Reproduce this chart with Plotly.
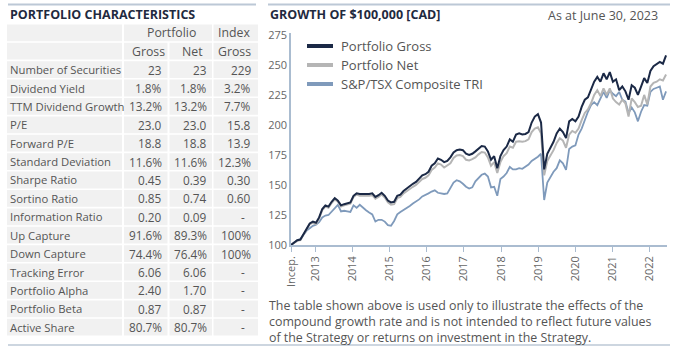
import plotly.graph_objects as go

W, H = 691, 350

# ---------------- data ----------------
months = list(range(121))
gross = [100, 102, 104, 104.5, 109, 114, 118, 119.5, 118.5, 123,
         130, 133, 132, 136, 139, 137, 133, 134, 135, 135.5,
         141, 143, 142.5, 142.5, 142, 142.5, 143, 140, 141.5, 143.5,
         141, 137, 135.5, 136, 141, 142, 145, 147, 149.5, 151,
         152.5, 155, 158, 159, 161, 166, 168, 172, 171, 169,
         170, 173, 177, 179, 179.5, 179, 176, 175, 176, 178,
         180, 182.5, 182, 178, 171, 174, 164, 174, 179, 182,
         188, 186, 192, 193, 192, 192.5, 194, 202, 207, 209,
         202, 163, 176, 181, 186, 193, 197, 194, 189, 203,
         205, 203, 207, 215, 221, 223, 229, 236, 240, 236,
         243, 238, 244, 236, 238, 229, 232, 228, 221, 233,
         231, 225, 232, 239, 235, 245, 249, 251, 252.5, 251,
         258]
net = [100, 101.5, 103.5, 104, 108.5, 113.5, 117.5, 118.5, 117.5, 122,
       129, 132, 131, 135, 138, 136, 132, 133, 134, 134.5,
       140, 142, 141, 141, 140.5, 141, 141.5, 138.5, 140, 142,
       139.5, 135.5, 133.5, 134, 139, 140, 143, 145, 147, 148.5,
       150, 152.5, 155, 156, 158, 162.5, 164.5, 168, 167, 164.5,
       166, 168, 172.5, 174.5, 175, 174, 171, 170.5, 171.5, 173,
       175.5, 177.5, 177, 173, 166, 169, 160, 169, 174, 176.5,
       182, 181, 186, 186.5, 186, 186.5, 188, 194, 197, 198,
       193, 158, 170, 174.5, 179, 185, 189, 187, 181, 192,
       195, 193.5, 197, 204, 210, 213, 218, 225, 229, 224,
       230.5, 225, 230.5, 222, 219, 217, 221, 218, 207, 222,
       219, 215, 216, 225, 217, 232, 235, 236, 238, 237,
       242]
index_tri = [100, 102, 104, 105, 109, 112, 114, 116, 117, 119,
             123, 124.5, 125, 128, 130.5, 133.5, 128, 128.5, 128, 127.5,
             133, 131, 133.5, 131, 129, 127, 125.5, 119.5, 121, 121,
             119.5, 116.5, 116, 120, 125.5, 127.5, 129, 131, 132.5, 134.5,
             136, 138, 140.5, 141.5, 143, 144.5, 145.5, 143.5, 143, 142.5,
             143, 148, 152, 154, 153, 151, 148.5, 147, 148, 153,
             155.5, 158.5, 159.5, 157, 148, 148.5, 141, 155, 157, 160,
             165, 163, 163, 164, 163.5, 165, 167, 170, 171.5, 173.5,
             176, 137.5, 152, 157, 161, 164, 170.5, 168, 162.5, 180,
             182, 183, 192, 197, 205, 211, 216.5, 219, 216.5, 222,
             227.5, 222.5, 229, 226, 224, 227.5, 221, 219.5, 210, 214.5,
             210.5, 203, 211, 216.5, 216, 227.5, 230, 231, 232, 221,
             228]

series_names = ["Portfolio Gross", "Portfolio Net", "S&P/TSX Composite TRI"]
series_colors = ["#1b2946", "#b5b5b5", "#7f9abb"]

x_tick_pos = [0, 7.7, 19.6, 31.5, 43.4, 55.3, 67.2, 79.1, 91.0, 102.9, 114.8]
x_tick_text = ["Incep.", "2013", "2014", "2015", "2016", "2017", "2018",
               "2019", "2020", "2021", "2022"]
y_ticks = [100, 125, 150, 175, 200, 225, 250, 275]

row_labels = ["Number of Securities", "Dividend Yield", "TTM Dividend Growth", "P/E",
              "Forward P/E", "Standard Deviation", "Sharpe Ratio", "Sortino Ratio",
              "Information Ratio", "Up Capture", "Down Capture", "Tracking Error",
              "Portfolio Alpha", "Portfolio Beta", "Active Share"]
gross_vals = ["23", "1.8%", "13.2%", "23.0", "18.8", "11.6%", "0.45", "0.85", "0.20",
              "91.6%", "74.4%", "6.06", "2.40", "0.87", "80.7%"]
net_vals = ["23", "1.8%", "13.2%", "23.0", "18.8", "11.6%", "0.39", "0.74", "0.09",
            "89.3%", "76.4%", "6.06", "1.70", "0.87", "80.7%"]
index_vals = ["229", "3.2%", "7.7%", "15.8", "13.9", "12.3%", "0.30", "0.60", "-",
              "100%", "100%", "-", "-", "-", "-"]

note_lines = ["The table shown above is used only to illustrate the effects of the",
              "compound growth rate and is not intended to reflect future values",
              "of the Strategy or returns on investment in the Strategy."]

# ---------------- helpers ----------------
FONT = "Open Sans"
TXT = "#555555"
TITLE = "#1f2a40"
RULE = "#bcc8d6"
AXIS = "#aabcd0"
CELL = "#f1f1f1"


def px(x):
    return x / W


def py(y):
    return 1 - y / H


shapes = []
annotations = []


def text(x, y, s, size=11.8, color=TXT, anchor="left", bold=False, yanchor="middle"):
    annotations.append(dict(
        x=px(x), y=py(y), xref="paper", yref="paper", text=("<b>%s</b>" % s) if bold else s,
        showarrow=False, xanchor=anchor, yanchor=yanchor, align="left",
        font=dict(family=FONT, size=size, color=color)))


def rect(x0, y0, x1, y1, color):
    shapes.append(dict(type="rect", xref="paper", yref="paper",
                       x0=px(x0), x1=px(x1), y0=py(y1), y1=py(y0),
                       fillcolor=color, line=dict(width=0), layer="below"))


def hline(x0, x1, y, color, width):
    shapes.append(dict(type="line", xref="paper", yref="paper",
                       x0=px(x0), x1=px(x1), y0=py(y), y1=py(y),
                       line=dict(color=color, width=width)))


# ---------------- figure ----------------
fig = go.Figure()
for vals, name, color, lw in [(index_tri, series_names[2], series_colors[2], 1.8),
                              (net, series_names[1], series_colors[1], 2.0),
                              (gross, series_names[0], series_colors[0], 2.0)]:
    fig.add_trace(go.Scatter(x=months, y=vals, mode="lines", name=name,
                             line=dict(color=color, width=lw), showlegend=False,
                             hoverinfo="skip"))

# rules
hline(8, 256, 4.5, RULE, 2)
hline(268, 670, 4.5, RULE, 2)
hline(8, 670, 345, RULE, 1.5)

# titles
text(8, 15, "PORTFOLIO CHARACTERISTICS", size=12.5, color=TITLE, bold=True)
text(268, 15, "GROWTH OF $100,000 [CAD]", size=12.5, color=TITLE, bold=True)
text(660, 15.5, "As at June 30, 2023", size=12.5, color=TXT, anchor="right")

# table
cols = [(7, 122), (124, 167.5), (169.5, 212), (213.5, 258)]
row_h = 18.4
top0 = 23.6
gap = 0.8
# header row 1
t = top0
rect(cols[0][0], t + gap, cols[0][1], t + row_h - gap, CELL)
rect(cols[1][0], t + gap, cols[2][1], t + row_h - gap, CELL)
rect(cols[3][0], t + gap, cols[3][1], t + row_h - gap, CELL)
text(171, t + row_h / 2, "Portfolio", size=12.3, anchor="center")
text(234, t + row_h / 2, "Index", size=12.3, anchor="center")
# header row 2
t = top0 + row_h
for c in cols:
    rect(c[0], t + gap, c[1], t + row_h - gap, CELL)
for xc, s in zip([148, 192, 234.5], ["Gross", "Net", "Gross"]):
    text(xc, t + row_h / 2, s, size=12.3, anchor="center")
# body rows
for i, lab in enumerate(row_labels):
    t = top0 + row_h * (i + 2)
    for c in cols:
        rect(c[0], t + gap, c[1], t + row_h - gap, CELL)
    yc = t + row_h / 2
    text(8, yc, lab, size=11.3)
    text(164, yc, gross_vals[i], anchor="right")
    text(209, yc, net_vals[i], anchor="right")
    if index_vals[i] == "-":
        text(242.5, yc, "-", anchor="center")
    else:
        text(253, yc, index_vals[i], anchor="right")

# legend (drawn manually)
leg_y = [46, 65, 84]
for name, color, yy in zip(series_names, series_colors, leg_y):
    hline(307, 333, yy, color, 4)
    text(339, yy, name, size=13)

# note (single multi-line text block)
text(267, 294.5, "<br>".join(note_lines), size=12.4, yanchor="top")

fig.update_layout(
    width=W, height=H,
    margin=dict(l=0, r=0, t=0, b=0),
    paper_bgcolor="white", plot_bgcolor="white",
    showlegend=False,
    shapes=shapes, annotations=annotations,
    xaxis=dict(domain=[px(291), px(667)], range=[0, 120.3],
               tickmode="array", tickvals=x_tick_pos, ticktext=x_tick_text,
               tickangle=-90, ticks="outside", ticklen=5, tickcolor=AXIS, tickwidth=1,
               showline=True, linecolor=AXIS, linewidth=1.5,
               showgrid=False, zeroline=False, automargin=False,
               tickfont=dict(family=FONT, size=11, color="#666666")),
    yaxis=dict(domain=[py(245), py(32.5)], range=[100, 277],
               tickmode="array", tickvals=y_ticks, ticks="",
               showline=True, linecolor=AXIS, linewidth=1.5,
               showgrid=False, zeroline=False, automargin=False,
               tickfont=dict(family=FONT, size=11, color="#666666")),
)

fig.write_html("out.html")
